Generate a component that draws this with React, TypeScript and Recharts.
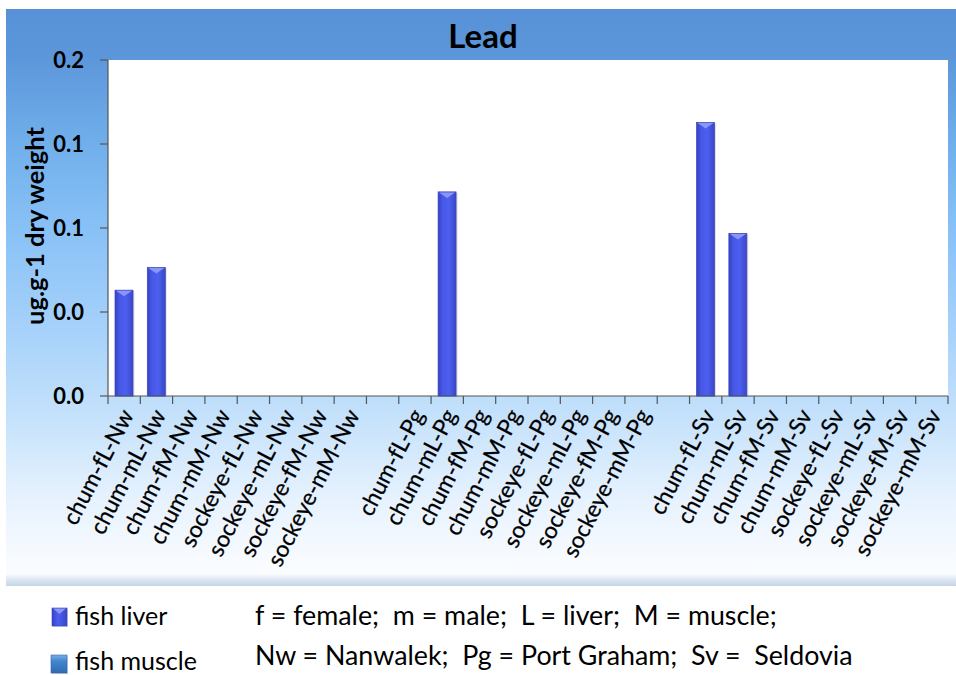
import React from "react";
import { BarChart, Bar, XAxis, YAxis, CartesianGrid } from "recharts";

const FONT = "Lato, 'Open Sans', sans-serif";

// categories per site, blank slots separate the three sites
const categories = [
  "chum-fL-Nw", "chum-mL-Nw", "chum-fM-Nw", "chum-mM-Nw",
  "sockeye-fL-Nw", "sockeye-mL-Nw", "sockeye-fM-Nw", "sockeye-mM-Nw",
  "",
  "chum-fL-Pg", "chum-mL-Pg", "chum-fM-Pg", "chum-mM-Pg",
  "sockeye-fL-Pg", "sockeye-mL-Pg", "sockeye-fM-Pg", "sockeye-mM-Pg",
  "",
  "chum-fL-Sv", "chum-mL-Sv", "chum-fM-Sv", "chum-mM-Sv",
  "sockeye-fL-Sv", "sockeye-mL-Sv", "sockeye-fM-Sv", "sockeye-mM-Sv",
];

const liverValues = [
  0.063, 0.0765, null, null, null, null, null, null,
  null,
  null, 0.1215, null, null, null, null, null, null,
  null,
  0.1628, 0.0968, null, null, null, null, null, null,
];

const muscleValues = [
  null, null, 0, 0, null, null, 0, 0,
  null,
  null, null, 0, 0, null, null, 0, 0,
  null,
  null, null, 0, 0, null, null, 0, 0,
];

const yTicks = [0, 0.05, 0.1, 0.15, 0.2];
const yTickLabels = ["0.0", "0.0", "0.1", "0.1", "0.2"];
const seriesNames = ["fish liver", "fish muscle"];
const noteLines = [
  "f = female;  m = male;  L = liver;  M = muscle;",
  "Nw = Nanwalek;  Pg = Port Graham;  Sv =  Seldovia",
];

const data = categories.map((name, i) => ({
  id: name || `gap${i}`,
  liver: liverValues[i],
  muscle: muscleValues[i],
}));

// keep the doubled spaces of the notes visible
const keepSpaces = (s: string) => s.replace(/  /g, "\u00a0 ");

function LiverBar(props: any) {
  const { x, y, width, height } = props;
  if (!height || height < 0.5) return null;
  const bevel = Math.min(6, height);
  return (
    <g>
      <rect x={x + 1.5} y={y + 1} width={width} height={height} fill="rgba(40,40,80,0.15)" />
      <rect x={x} y={y} width={width} height={height} fill="url(#liverGrad)" stroke="#3a45b8" strokeWidth={0.7} />
      <polygon
        points={`${x + 1},${y + 0.5} ${x + width - 1},${y + 0.5} ${x + width / 2},${y + bevel}`}
        fill="#8a96f6"
      />
    </g>
  );
}

function CategoryTick(props: any) {
  const { x, y, payload, index, width, visibleTicksCount } = props;
  const count = visibleTicksCount || categories.length;
  const band = (width || 840) / count;
  const axisY = y - 8;
  const left = payload.coordinate - band / 2;
  const label = categories[index];
  const tx = x + 3;
  const ty = axisY + 15;
  return (
    <g>
      <line x1={left} y1={axisY} x2={left} y2={axisY + 8} stroke="#555" strokeWidth={1.2} />
      {index === count - 1 && (
        <line x1={left + band} y1={axisY} x2={left + band} y2={axisY + 8} stroke="#555" strokeWidth={1.2} />
      )}
      {label && (
        <text
          x={tx}
          y={ty}
          dy="0.35em"
          textAnchor="end"
          transform={`rotate(-62.5, ${tx}, ${ty})`}
          fontSize={23}
          fontFamily={FONT}
          fill="#000"
          stroke="#000"
          strokeWidth={0.25}
        >
          {label}
        </text>
      )}
    </g>
  );
}

function YLabel(props: any) {
  const { viewBox } = props;
  const cy = viewBox.y + viewBox.height / 2 - 2;
  return (
    <text
      x={28}
      y={cy}
      transform={`rotate(-90, 28, ${cy})`}
      textAnchor="middle"
      dominantBaseline="central"
      fontSize={25.5}
      fontWeight="bold"
      fontFamily={FONT}
      fill="#000"
    >
      ug.g-1 dry weight
    </text>
  );
}

export default function App() {
  return (
    <div style={{ position: "absolute", left: 0, top: 0, width: 956, height: 675, background: "#fff", fontFamily: FONT }}>
      <div
        style={{
          position: "absolute",
          left: 6,
          top: 9,
          width: 950,
          height: 577,
          background:
            "linear-gradient(to bottom, #5790d6 0px, #5c97db 50px, #72b0ec 140px, #88c1f6 220px, #a6d1fa 320px, #c2e0fb 400px, #e6f2fe 490px, #f6faff 545px, #fafcff 565px, #dfe8f3 570px, #c6d5e9 577px)",
        }}
      />
      <div
        style={{
          position: "absolute",
          left: 6,
          top: 14,
          width: 954,
          textAlign: "center",
          fontSize: 33,
          fontWeight: "bold",
          lineHeight: "42px",
          color: "#000",
        }}
      >
        Lead
      </div>
      <div style={{ position: "absolute", left: 6, top: 9 }}>
        <BarChart
          width={950}
          height={577}
          data={data}
          margin={{ top: 51, right: 8, left: 0, bottom: 0 }}
          barSize={18}
        >
          <defs>
            <linearGradient id="liverGrad" x1="0" y1="0" x2="1" y2="0">
              <stop offset="0%" stopColor="#3442c2" />
              <stop offset="25%" stopColor="#4757e6" />
              <stop offset="60%" stopColor="#4d5ff0" />
              <stop offset="100%" stopColor="#3947c6" />
            </linearGradient>
            <linearGradient id="muscleGrad" x1="0" y1="0" x2="0" y2="1">
              <stop offset="0%" stopColor="#6ea6e0" />
              <stop offset="40%" stopColor="#3f80cc" />
              <stop offset="100%" stopColor="#2f6db5" />
            </linearGradient>
          </defs>
          <CartesianGrid fill="#fff" horizontal={false} vertical={false} />
          <XAxis
            dataKey="id"
            interval={0}
            height={190}
            tickSize={8}
            tickMargin={0}
            tickLine={false}
            axisLine={{ stroke: "#555", strokeWidth: 1.2 }}
            tick={<CategoryTick />}
          />
          <YAxis
            domain={[0, 0.2]}
            ticks={yTicks}
            interval={0}
            width={102}
            tickSize={8}
            tickMargin={16}
            tickFormatter={(v: number) => yTickLabels[yTicks.indexOf(v)] ?? String(v)}
            tick={{ fontSize: 22, fontWeight: "bold", fill: "#000", fontFamily: FONT }}
            axisLine={{ stroke: "#555", strokeWidth: 1.2 }}
            tickLine={{ stroke: "#555", strokeWidth: 1.2 }}
            label={<YLabel />}
          />
          <Bar dataKey="liver" name={seriesNames[0]} stackId="s" shape={<LiverBar />} isAnimationActive={false} />
          <Bar dataKey="muscle" name={seriesNames[1]} stackId="s" fill="url(#muscleGrad)" shape={<LiverBar />} isAnimationActive={false} />
        </BarChart>
      </div>
      <svg style={{ position: "absolute", left: 0, top: 586 }} width={956} height={89}>
        <defs>
          <linearGradient id="legLiver" x1="0" y1="0" x2="1" y2="0">
            <stop offset="0%" stopColor="#3442c2" />
            <stop offset="40%" stopColor="#4d5ff0" />
            <stop offset="100%" stopColor="#3947c6" />
          </linearGradient>
          <linearGradient id="legMuscle" x1="0" y1="0" x2="0" y2="1">
            <stop offset="0%" stopColor="#79afe6" />
            <stop offset="35%" stopColor="#4285d0" />
            <stop offset="100%" stopColor="#2f6cb3" />
          </linearGradient>
        </defs>
        <rect x={53} y={23} width={15} height={18} fill="rgba(40,40,80,0.18)" />
        <rect x={52} y={22} width={15} height={18} fill="url(#legLiver)" stroke="#3a45b8" strokeWidth={0.6} />
        <polygon points="53,22.5 66,22.5 59.5,28" fill="#8a96f6" />
        <rect x={52} y={70} width={16} height={18} fill="rgba(40,40,80,0.18)" />
        <rect x={51} y={69} width={16} height={18} fill="url(#legMuscle)" stroke="#2f64a8" strokeWidth={0.6} />
        <text x={75} y={39} fontSize={25} fontFamily={FONT} fill="#000">{seriesNames[0]}</text>
        <text x={75} y={84} fontSize={25} fontFamily={FONT} fill="#000">{seriesNames[1]}</text>
        <text x={255} y={39} fontSize={26.8} fontFamily={FONT} fill="#000">{keepSpaces(noteLines[0])}</text>
        <text x={255} y={79} fontSize={26.8} fontFamily={FONT} fill="#000">{keepSpaces(noteLines[1])}</text>
      </svg>
    </div>
  );
}
